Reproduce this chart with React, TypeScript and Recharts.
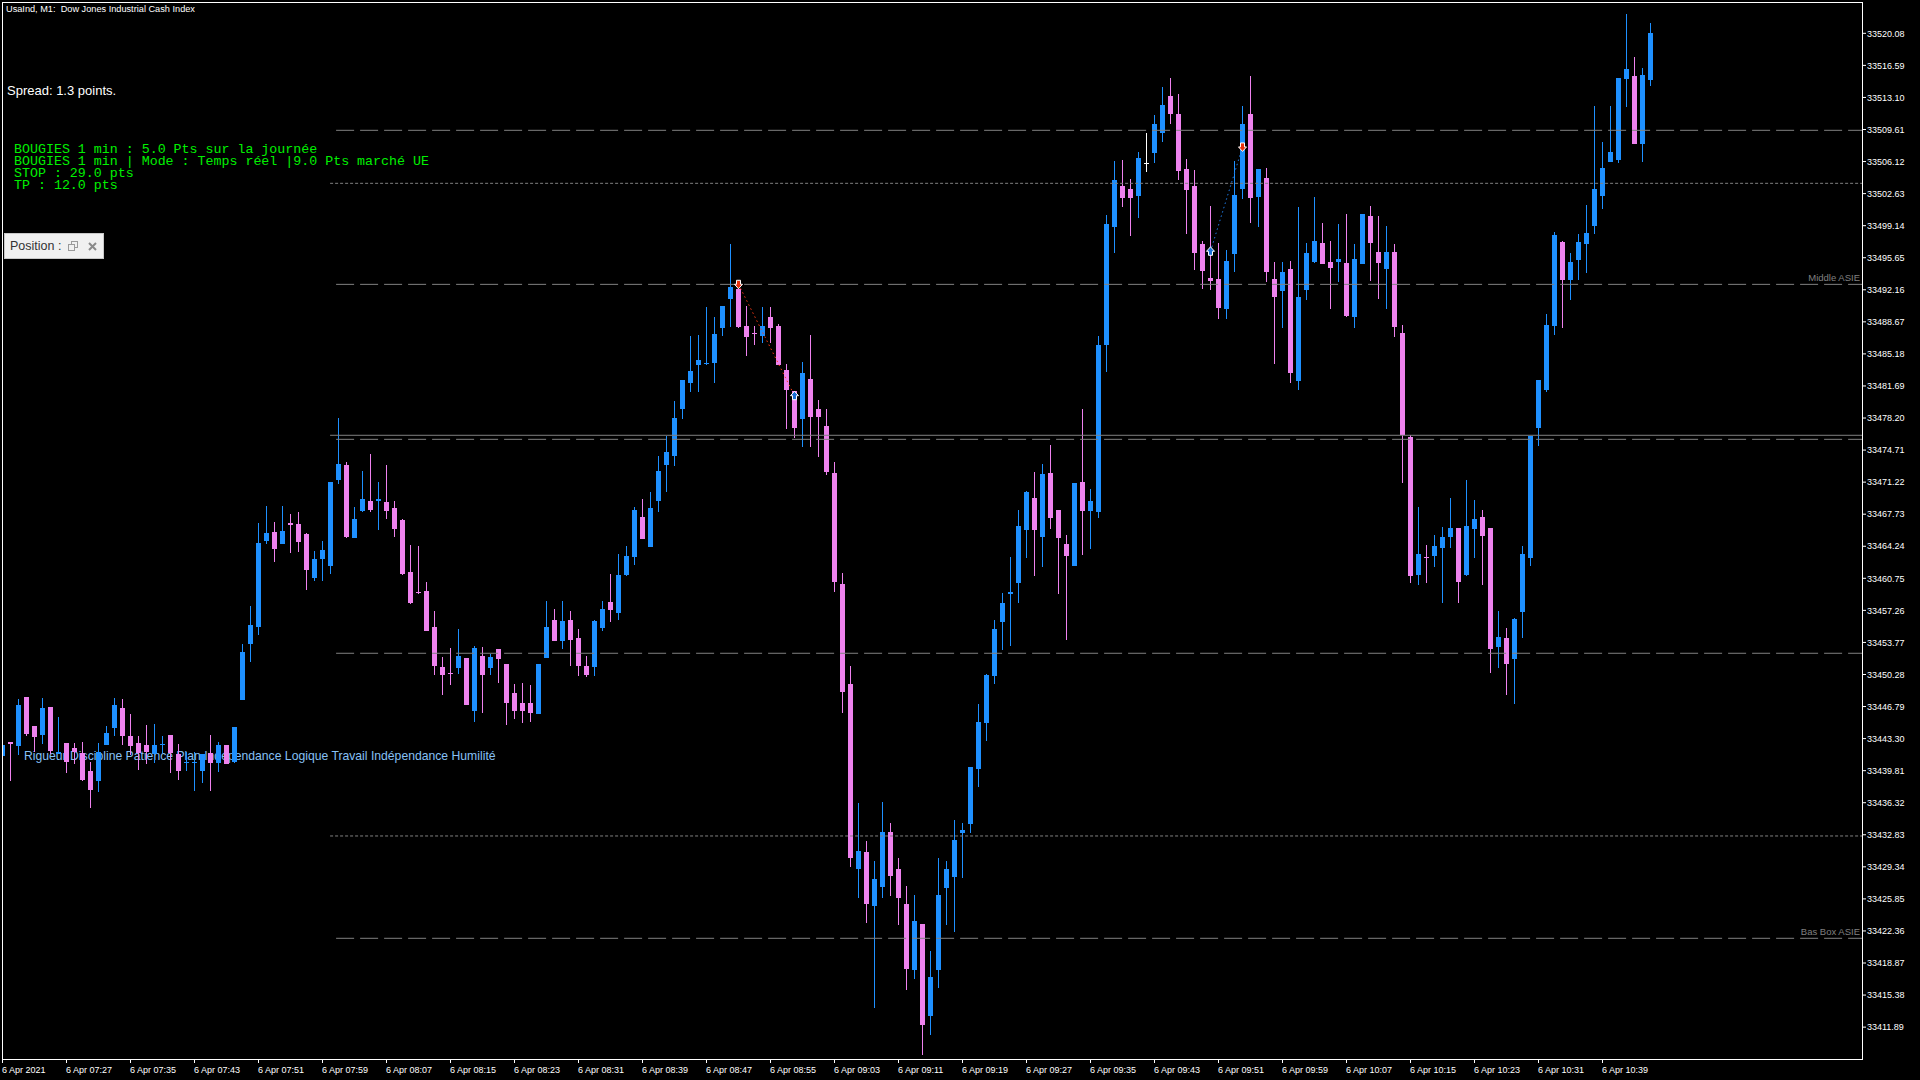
import React from 'react';
import { ComposedChart, Bar, XAxis, YAxis, ReferenceLine, ReferenceDot } from 'recharts';

// ---- Candle data (1-minute bars, 6 Apr 2021 07:19 -> 10:45) ----
const OPEN = [
  33441.4, 33442.9, 33442.5, 33447.8, 33444.7, 33443.7, 33446.7, 33441.6, 33442.8, 33442.3,
  33441.7, 33439.8, 33438.7, 33442.6, 33444.5, 33446.6, 33443.6, 33442.8, 33442.6, 33441.6,
  33442.7, 33443.7, 33441.6, 33440.75, 33440.65, 33439.8, 33441.7, 33440.6, 33442.6, 33440.8,
  33447.5, 33453.6, 33455.4, 33464.8, 33465.8, 33464.5, 33466.8, 33466.7, 33465.6, 33460.8,
  33462.8, 33462.1, 33471.4, 33473.1, 33465.1, 33468.1, 33469.2, 33469.2, 33469.05, 33468.4,
  33467.1, 33461.4, 33459.3, 33459.4, 33455.4, 33451.1, 33450.45, 33451.0, 33452.1, 33446.3,
  33452.3, 33451.0, 33453.05, 33451.4, 33448.3, 33447.2, 33447.2, 33446.0, 33452.1, 33456.2,
  33453.9, 33456.2, 33454.25, 33451.2, 33451.1, 33455.3, 33458.2, 33457.0, 33461.1, 33463.1,
  33467.4, 33464.15, 33469.2, 33473.1, 33474.1, 33479.2, 33482.0, 33484.0, 33484.1, 33484.2,
  33488.0, 33491.15, 33492.2, 33488.2, 33487.45, 33487.1, 33489.2, 33488.2, 33483.4, 33481.1,
  33478.1, 33482.4, 33479.2, 33477.3, 33472.2, 33460.1, 33449.2, 33429.1, 33431.0, 33425.1,
  33427.1, 33433.1, 33429.15, 33425.3, 33418.1, 33423.1, 33413.1, 33418.1, 33427.0, 33428.2,
  33433.05, 33434.0, 33440.0, 33445.0, 33450.1, 33456.0, 33459.05, 33460.2, 33466.05, 33469.5,
  33465.3, 33472.2, 33468.2, 33464.5, 33462.1, 33471.2, 33468.05, 33468.0, 33486.1, 33499.0,
  33503.5, 33503.1, 33502.4, 33506.0, 33507.0, 33509.2, 33513.25, 33511.3, 33505.3, 33503.5,
  33497.1, 33493.4, 33493.3, 33490.05, 33496.05, 33503.1, 33511.3, 33502.3, 33504.3, 33493.3,
  33492.0, 33494.4, 33482.2, 33492.1, 33495.2, 33497.25, 33495.2, 33495.2, 33495.1, 33489.2,
  33495.0, 33500.2, 33496.3, 33494.4, 33496.3, 33487.5, 33476.1, 33461.15, 33463.1, 33463.2,
  33464.1, 33465.2, 33466.2, 33461.15, 33466.1, 33467.4, 33466.2, 33453.3, 33454.25, 33452.0,
  33457.1, 33463.0, 33477.15, 33481.2, 33488.2, 33497.4, 33493.2, 33495.45, 33497.1, 33499.1,
  33502.4, 33506.1, 33506.3, 33515.1, 33515.4, 33508.0, 33515.0,
];
const HIGH = [
  33442.6, 33442.9, 33447.6, 33447.8, 33444.7, 33447.7, 33446.7, 33445.7, 33442.8, 33442.8,
  33442.9, 33440.8, 33442.8, 33444.7, 33447.7, 33447.6, 33446.0, 33443.6, 33444.8, 33444.9,
  33443.6, 33443.7, 33442.7, 33441.8, 33441.8, 33441.6, 33443.7, 33442.9, 33442.6, 33444.6,
  33453.6, 33457.7, 33466.8, 33468.6, 33466.9, 33468.6, 33467.8, 33468.0, 33465.7, 33463.7,
  33464.8, 33471.2, 33478.2, 33473.4, 33468.5, 33472.4, 33474.3, 33471.2, 33473.1, 33469.2,
  33467.2, 33464.4, 33464.3, 33460.3, 33457.2, 33452.2, 33453.2, 33455.2, 33452.1, 33453.4,
  33453.3, 33452.5, 33453.05, 33451.4, 33449.2, 33449.35, 33449.1, 33451.4, 33458.3, 33457.4,
  33458.3, 33457.2, 33455.2, 33452.3, 33456.2, 33458.3, 33461.2, 33463.4, 33464.3, 33468.5,
  33469.4, 33470.1, 33474.1, 33476.2, 33480.05, 33482.3, 33487.1, 33487.2, 33490.3, 33489.2,
  33490.4, 33497.1, 33493.2, 33490.4, 33488.2, 33490.3, 33490.3, 33488.4, 33484.1, 33481.1,
  33484.3, 33487.2, 33480.2, 33479.2, 33473.4, 33461.3, 33451.2, 33436.25, 33432.2, 33430.0,
  33436.35, 33434.1, 33430.25, 33427.2, 33426.3, 33423.1, 33420.2, 33430.3, 33430.0, 33434.4,
  33434.1, 33440.25, 33447.1, 33450.3, 33456.2, 33459.1, 33463.1, 33468.2, 33470.3, 33472.3,
  33473.2, 33475.3, 33468.2, 33465.5, 33471.1, 33479.2, 33470.5, 33487.1, 33500.3, 33506.2,
  33506.3, 33504.2, 33507.2, 33509.2, 33511.2, 33514.2, 33515.2, 33513.5, 33506.4, 33505.2,
  33497.5, 33501.25, 33497.3, 33496.5, 33506.2, 33512.2, 33515.4, 33505.3, 33505.4, 33495.2,
  33495.2, 33495.3, 33501.2, 33497.25, 33502.3, 33499.4, 33497.5, 33499.3, 33500.4, 33497.1,
  33500.4, 33501.3, 33500.2, 33499.1, 33497.1, 33488.3, 33476.4, 33468.5, 33464.4, 33465.5,
  33466.3, 33469.5, 33466.2, 33471.5, 33469.3, 33468.2, 33466.2, 33457.2, 33455.3, 33456.4,
  33464.3, 33476.25, 33482.3, 33489.5, 33498.45, 33497.5, 33496.2, 33498.2, 33501.4, 33512.2,
  33508.25, 33512.2, 33515.2, 33522.2, 33517.5, 33516.3, 33521.2,
];
const LOW = [
  33441.4, 33438.7, 33441.5, 33443.6, 33441.8, 33442.7, 33441.6, 33441.6, 33439.6, 33440.5,
  33438.7, 33435.7, 33437.5, 33442.6, 33443.6, 33442.6, 33441.5, 33439.9, 33440.5, 33440.6,
  33441.7, 33439.6, 33438.8, 33439.8, 33437.6, 33438.5, 33437.6, 33439.7, 33440.5, 33440.6,
  33447.5, 33451.6, 33454.6, 33464.5, 33462.5, 33464.5, 33463.5, 33463.6, 33459.5, 33460.5,
  33460.5, 33461.25, 33471.0, 33465.1, 33465.1, 33468.0, 33468.0, 33466.0, 33467.2, 33465.3,
  33461.1, 33458.0, 33459.05, 33455.0, 33450.25, 33448.0, 33449.1, 33450.35, 33447.0, 33445.1,
  33446.1, 33450.25, 33449.3, 33444.8, 33445.4, 33445.0, 33445.1, 33446.0, 33452.1, 33453.9,
  33453.05, 33451.2, 33450.1, 33450.0, 33450.1, 33455.0, 33456.0, 33456.2, 33461.0, 33462.2,
  33465.0, 33464.15, 33468.0, 33470.1, 33473.0, 33478.1, 33481.0, 33481.0, 33484.0, 33482.0,
  33487.1, 33488.1, 33488.0, 33484.95, 33486.1, 33486.4, 33486.4, 33484.0, 33477.0, 33476.0,
  33475.0, 33475.0, 33473.95, 33472.0, 33459.3, 33446.1, 33429.3, 33426.0, 33423.2, 33414.0,
  33426.0, 33426.2, 33423.0, 33415.9, 33417.1, 33408.9, 33411.0, 33416.1, 33423.0, 33422.3,
  33428.1, 33433.05, 33438.0, 33443.05, 33449.2, 33452.9, 33453.4, 33458.1, 33463.0, 33461.05,
  33462.0, 33466.1, 33459.05, 33454.05, 33462.1, 33463.3, 33463.9, 33467.3, 33483.2, 33496.2,
  33501.2, 33498.0, 33500.0, 33505.0, 33506.0, 33508.2, 33510.2, 33504.1, 33498.2, 33494.3,
  33492.25, 33492.1, 33489.0, 33489.0, 33494.1, 33502.05, 33499.4, 33499.0, 33493.0, 33484.1,
  33488.0, 33482.05, 33481.3, 33491.1, 33495.1, 33495.0, 33490.1, 33493.05, 33489.2, 33488.0,
  33495.0, 33493.15, 33491.2, 33490.1, 33487.05, 33471.15, 33460.25, 33460.06, 33460.2, 33462.0,
  33458.1, 33464.1, 33458.1, 33461.0, 33463.0, 33460.06, 33450.4, 33451.0, 33448.1, 33447.1,
  33454.3, 33462.1, 33475.1, 33481.05, 33487.2, 33488.0, 33491.1, 33493.2, 33494.0, 33498.2,
  33500.95, 33506.1, 33506.0, 33512.1, 33508.0, 33506.1, 33514.3,
];
const CLOSE = [
  33442.6, 33442.7, 33447.0, 33443.8, 33443.5, 33446.6, 33441.9, 33441.8, 33440.7, 33441.8,
  33438.8, 33437.7, 33441.8, 33443.9, 33447.0, 33443.6, 33442.5, 33441.7, 33441.8, 33442.6,
  33442.75, 33441.7, 33439.8, 33440.8, 33440.7, 33441.6, 33440.6, 33442.6, 33440.5, 33444.6,
  33452.7, 33455.7, 33464.6, 33465.7, 33463.9, 33465.9, 33466.55, 33464.7, 33461.7, 33462.85,
  33463.8, 33471.2, 33473.2, 33465.3, 33467.2, 33469.4, 33468.2, 33469.4, 33468.1, 33466.15,
  33461.25, 33458.1, 33459.1, 33455.04, 33451.2, 33450.25, 33450.35, 33452.3, 33447.0, 33453.2,
  33450.25, 33452.2, 33452.0, 33447.2, 33446.3, 33446.3, 33446.1, 33451.4, 33455.4, 33453.9,
  33456.1, 33454.0, 33451.2, 33450.2, 33456.1, 33457.4, 33457.3, 33461.1, 33463.2, 33468.2,
  33465.0, 33468.4, 33472.4, 33474.5, 33478.2, 33482.3, 33483.3, 33484.5, 33484.2, 33487.3,
  33490.4, 33492.5, 33488.1, 33487.0, 33487.4, 33488.2, 33488.0, 33484.0, 33481.25, 33477.1,
  33483.1, 33478.3, 33478.3, 33472.3, 33460.3, 33448.4, 33430.3, 33431.1, 33425.3, 33428.05,
  33433.1, 33428.3, 33426.0, 33418.2, 33423.4, 33412.1, 33417.4, 33426.3, 33429.05, 33432.3,
  33433.3, 33440.25, 33445.1, 33450.2, 33455.2, 33458.1, 33459.3, 33466.4, 33470.1, 33466.05,
  33472.1, 33467.3, 33465.1, 33463.2, 33471.1, 33468.05, 33469.2, 33486.1, 33499.3, 33504.1,
  33502.1, 33502.1, 33506.5, 33506.0, 33510.2, 33512.25, 33511.3, 33505.1, 33503.0, 33496.2,
  33494.2, 33493.1, 33490.2, 33495.3, 33502.5, 33510.2, 33502.1, 33505.3, 33494.1, 33491.4,
  33494.1, 33483.1, 33491.4, 33496.2, 33497.5, 33495.0, 33494.5, 33495.5, 33489.3, 33495.5,
  33500.4, 33497.2, 33495.1, 33496.3, 33488.1, 33476.4, 33461.0, 33463.4, 33463.0, 33464.3,
  33465.2, 33466.2, 33460.3, 33466.4, 33467.2, 33465.4, 33453.1, 33454.4, 33451.4, 33456.3,
  33463.4, 33476.25, 33482.3, 33488.3, 33498.1, 33493.2, 33495.2, 33497.4, 33498.3, 33503.1,
  33505.4, 33507.2, 33515.2, 33516.2, 33508.0, 33515.5, 33520.1,
];

// ---- Axis ticks ----
const TIME_TICK_INDEX = [0, 8, 16, 24, 32, 40, 48, 56, 64, 72, 80, 88, 96, 104, 112, 120, 128, 136, 144, 152, 160, 168, 176, 184, 192, 200];
const TIME_TICK_LABELS = [
  '6 Apr 2021', '6 Apr 07:27', '6 Apr 07:35', '6 Apr 07:43', '6 Apr 07:51', '6 Apr 07:59', '6 Apr 08:07',
  '6 Apr 08:15', '6 Apr 08:23', '6 Apr 08:31', '6 Apr 08:39', '6 Apr 08:47', '6 Apr 08:55', '6 Apr 09:03',
  '6 Apr 09:11', '6 Apr 09:19', '6 Apr 09:27', '6 Apr 09:35', '6 Apr 09:43', '6 Apr 09:51', '6 Apr 09:59',
  '6 Apr 10:07', '6 Apr 10:15', '6 Apr 10:23', '6 Apr 10:31', '6 Apr 10:39',
];
const PRICE_TICKS = [
  33520.08, 33516.59, 33513.10, 33509.61, 33506.12, 33502.63, 33499.14, 33495.65, 33492.16, 33488.67,
  33485.18, 33481.69, 33478.20, 33474.71, 33471.22, 33467.73, 33464.24, 33460.75, 33457.26, 33453.77,
  33450.28, 33446.79, 33443.30, 33439.81, 33436.32, 33432.83, 33429.34, 33425.85, 33422.36, 33418.87,
  33415.38, 33411.89,
];

// ---- Horizontal levels ----
const DASHED_LEVELS = [33509.52, 33492.75, 33475.88, 33452.59, 33421.56];
const DOTTED_LEVELS = [33503.75, 33432.70];
const SOLID_LEVELS = [33476.32];
const LEVEL_NAMES = ['', 'Middle ASIE', '', '', 'Bas Box ASIE'];

// ---- Trades (entry / exit markers) ----
const TRADE_OPEN_IDX = [92, 151];
const TRADE_OPEN_PRICE = [33492.76, 33496.35];
const TRADE_CLOSE_IDX = [99, 155];
const TRADE_CLOSE_PRICE = [33480.63, 33507.71];
const TRADE_SIDE = ['sell', 'buy'];

const TEXT_LINES = [
  'BOUGIES 1 min : 5.0 Pts sur la journée',
  'BOUGIES 1 min | Mode : Temps réel |9.0 Pts marché UE',
  'STOP : 29.0 pts',
  'TP : 12.0 pts',
];
const MOTTO = 'Rigueur Discipline Patience Plan Indépendance Logique Travail Indépendance Humilité';

const candles = OPEN.map((o, i) => ({
  i,
  o,
  h: HIGH[i],
  l: LOW[i],
  c: CLOSE[i],
  range: [LOW[i], HIGH[i]],
}));

const BULL = '#1E90FF';
const BEAR = '#EE82EE';
const DOJI = '#FFFFFF';
const GRAY = '#808080';
const FONT = '"Liberation Sans", Arial, sans-serif';

const X_MIN = -0.0625;
const X_MAX = 232.4375;
const Y_MIN = 33408.42;
const Y_MAX = 33523.49;
const DASH_START = 41.7;
const DOT_START = 40.95;

const Candle = (props: any) => {
  const { x, y, width, height, payload } = props;
  if (x == null || y == null || !payload) return null;
  const top = Math.min(y, y + height);
  const bot = Math.max(y, y + height);
  const { o, h, l, c } = payload;
  const k = h > l ? (bot - top) / (h - l) : 0;
  const py = (v: number) => top + (h - v) * k;
  const cx = x + width / 2;
  const color = c > o ? BULL : c < o ? BEAR : DOJI;
  const bTop = Math.round(py(Math.max(o, c)));
  const bBot = Math.round(py(Math.min(o, c)));
  const wTop = Math.round(top);
  const wBot = Math.round(bot);
  return (
    <g shapeRendering="crispEdges">
      <rect x={cx - 0.5} y={wTop} width={1} height={Math.max(wBot - wTop, 1)} fill={color} />
      <rect x={cx - 2.5} y={bTop} width={5} height={Math.max(bBot - bTop, 1)} fill={color} />
    </g>
  );
};

const XTick = (props: any) => {
  const { x, y, payload } = props;
  const idx = TIME_TICK_INDEX.indexOf(payload.value);
  const label = idx >= 0 ? TIME_TICK_LABELS[idx] : '';
  return (
    <g>
      <line x1={x} x2={x} y1={y} y2={y + 4} stroke="#fff" strokeWidth={1} />
      <text x={x - 0.5} y={y + 10.5} fill="#fff" fontSize={9} fontFamily={FONT} dominantBaseline="central" textAnchor="start">
        {label}
      </text>
    </g>
  );
};

const Arrow = ({ cx, cy, up, color }: any) => {
  if (cx == null || cy == null) return null;
  const s = up ? -1 : 1;
  const pts = [
    [-2, -4], [2, -4], [2, 0], [4, 0], [0, 4.5], [-4, 0], [-2, 0],
  ].map(([px, py]) => `${cx + px},${cy + py * s}`).join(' ');
  return <polygon points={pts} fill={color} stroke="#fff" strokeWidth={1} />;
};

const LevelLabel = (text: string) => (p: any) => {
  const vb = p.viewBox || {};
  if (vb.x == null) return null;
  return (
    <text x={vb.x + (vb.width || 0) - 2} y={vb.y - 7} fill={GRAY} fontSize={9.5} fontFamily={FONT} textAnchor="end" dominantBaseline="central">
      {text}
    </text>
  );
};

const RestoreIcon = () => (
  <svg width="10" height="10" viewBox="0 0 10 10" style={{ display: 'block' }}>
    <rect x="3.5" y="0.5" width="6" height="6" fill="none" stroke="#9a9a9a" />
    <rect x="0.5" y="3.5" width="6" height="6" fill="#f0f0f0" stroke="#9a9a9a" />
  </svg>
);
const CloseIcon = () => (
  <svg width="9" height="9" viewBox="0 0 9 9" style={{ display: 'block' }}>
    <path d="M1 1 L8 8 M8 1 L1 8" stroke="#8a8a8a" strokeWidth="2" />
  </svg>
);

export default function App() {
  return (
    <div style={{ position: 'absolute', left: 0, top: 0, width: 1920, height: 1080, background: '#000', overflow: 'hidden' }}>
      {/* background text (drawn under the candles) */}
      <div style={{ position: 'absolute', left: 24, top: 748, fontFamily: FONT, fontSize: 12.2, lineHeight: '16px', color: '#87C0F5', whiteSpace: 'pre' }}>
        {MOTTO}
      </div>

      <div style={{ position: 'absolute', left: 0, top: 0 }}>
        <ComposedChart width={1920} height={1080} data={candles} margin={{ top: 2, right: 0, bottom: 0, left: 2 }}>
          <XAxis
            dataKey="i"
            type="number"
            domain={[X_MIN, X_MAX]}
            allowDataOverflow
            ticks={TIME_TICK_INDEX}
            interval={0}
            tick={(p: any) => <XTick {...p} />}
            tickLine={false}
            axisLine={false}
            tickSize={0}
            tickMargin={0}
            height={21}
          />
          <YAxis
            orientation="right"
            type="number"
            domain={[Y_MIN, Y_MAX]}
            allowDataOverflow
            ticks={PRICE_TICKS}
            interval={0}
            width={58}
            tickSize={4}
            tickMargin={1}
            axisLine={false}
            tickLine={{ stroke: '#fff' }}
            tick={{ fill: '#fff', fontSize: 9, fontFamily: FONT }}
            tickFormatter={(v: number) => v.toFixed(2)}
          />
          {DASHED_LEVELS.map((p, k) => (
            <ReferenceLine
              key={'d' + k}
              segment={[{ x: DASH_START, y: p }, { x: X_MAX, y: p }]}
              stroke={GRAY}
              strokeWidth={1}
              strokeDasharray="18 6"
              ifOverflow="visible"
              label={LEVEL_NAMES[k] ? { content: LevelLabel(LEVEL_NAMES[k]) } : undefined}
            />
          ))}
          {DOTTED_LEVELS.map((p, k) => (
            <ReferenceLine
              key={'o' + k}
              segment={[{ x: DOT_START, y: p }, { x: X_MAX, y: p }]}
              stroke={GRAY}
              strokeWidth={1}
              strokeDasharray="3 2"
              ifOverflow="visible"
            />
          ))}
          {SOLID_LEVELS.map((p, k) => (
            <ReferenceLine
              key={'s' + k}
              segment={[{ x: DOT_START, y: p }, { x: X_MAX, y: p }]}
              stroke={GRAY}
              strokeWidth={1}
              ifOverflow="visible"
            />
          ))}
          <Bar dataKey="range" barSize={5} shape={(p: any) => <Candle {...p} />} isAnimationActive={false} />
          {TRADE_OPEN_IDX.map((ix, k) => (
            <ReferenceLine
              key={'t' + k}
              segment={[{ x: ix, y: TRADE_OPEN_PRICE[k] }, { x: TRADE_CLOSE_IDX[k], y: TRADE_CLOSE_PRICE[k] }]}
              stroke={TRADE_SIDE[k] === 'sell' ? '#FF3A14' : '#1E78E0'}
              strokeWidth={1}
              strokeDasharray="1.5 3"
              ifOverflow="visible"
            />
          ))}
          {TRADE_OPEN_IDX.map((ix, k) => (
            <ReferenceDot
              key={'a' + k}
              x={ix}
              y={TRADE_OPEN_PRICE[k]}
              ifOverflow="visible"
              shape={(p: any) => (
                <Arrow cx={p.cx} cy={p.cy} up={TRADE_SIDE[k] === 'buy'} color={TRADE_SIDE[k] === 'sell' ? '#E8300C' : '#1A6FD6'} />
              )}
            />
          ))}
          {TRADE_CLOSE_IDX.map((ix, k) => (
            <ReferenceDot
              key={'b' + k}
              x={ix}
              y={TRADE_CLOSE_PRICE[k]}
              ifOverflow="visible"
              shape={(p: any) => (
                <Arrow cx={p.cx} cy={p.cy} up={TRADE_SIDE[k] === 'sell'} color={TRADE_SIDE[k] === 'sell' ? '#1A6FD6' : '#E8300C'} />
              )}
            />
          ))}
        </ComposedChart>
      </div>

      {/* chart frame */}
      <div style={{ position: 'absolute', left: 2, top: 2, width: 1861, height: 1058, border: '1px solid #fff', boxSizing: 'border-box', pointerEvents: 'none' }} />

      {/* foreground texts */}
      <div style={{ position: 'absolute', left: 6, top: 3, fontFamily: FONT, fontSize: 9.2, lineHeight: '12px', color: '#fff', whiteSpace: 'pre' }}>
        {'UsaInd, M1:  Dow Jones Industrial Cash Index'}
      </div>
      <div style={{ position: 'absolute', left: 7, top: 82, fontFamily: FONT, fontSize: 13, lineHeight: '18px', color: '#fff', whiteSpace: 'pre' }}>
        Spread: 1.3 points.
      </div>
      {TEXT_LINES.map((t, k) => (
        <div
          key={k}
          style={{ position: 'absolute', left: 14, top: 143 + k * 12, fontFamily: '"Liberation Mono", "Courier New", monospace', fontSize: 13.3, lineHeight: '14px', color: '#00F000', whiteSpace: 'pre' }}
        >
          {t}
        </div>
      ))}
      <div
        style={{
          position: 'absolute', left: 4, top: 233, width: 100, height: 26, boxSizing: 'border-box',
          background: '#f0f0f0', border: '1px solid #c8c8c8',
        }}
      >
        <span style={{ position: 'absolute', left: 5, top: 4, fontFamily: FONT, fontSize: 12.5, lineHeight: '16px', color: '#333', whiteSpace: 'nowrap' }}>
          Position :
        </span>
        <span style={{ position: 'absolute', left: 63, top: 7 }}><RestoreIcon /></span>
        <span style={{ position: 'absolute', left: 83, top: 7.5 }}><CloseIcon /></span>
      </div>
    </div>
  );
}
